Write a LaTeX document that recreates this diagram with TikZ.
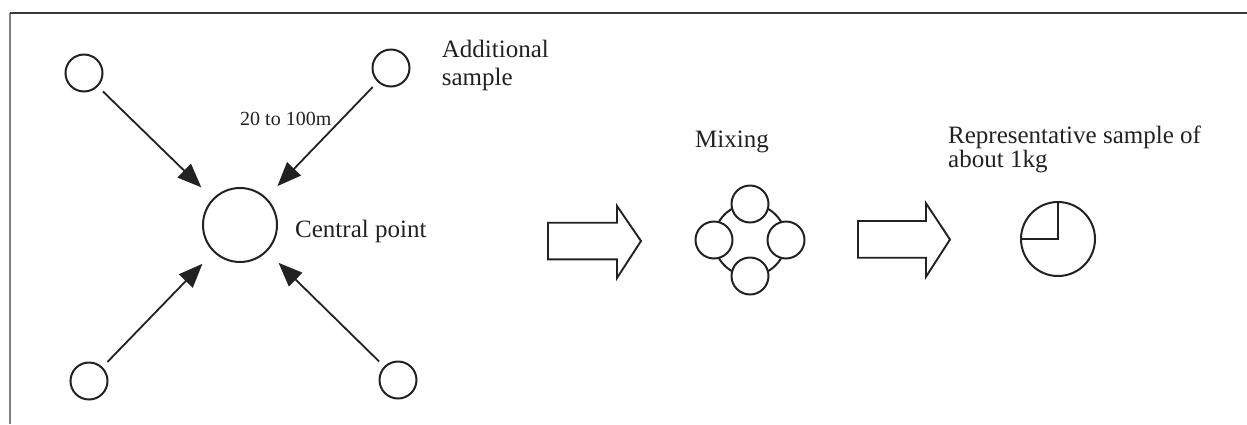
\documentclass[tikz,border=0pt]{standalone}
\usepackage{fontspec}
\setmainfont{Liberation Serif}
\usetikzlibrary{arrows.meta}
\definecolor{ink}{HTML}{222222}
\definecolor{framegray}{HTML}{808080}
\tikzset{
  sample/.style={circle, draw=ink, line width=2pt, minimum size=37pt, inner sep=0pt, fill=white},
  central/.style={circle, draw=ink, line width=2pt, minimum size=74pt, inner sep=0pt},
  arr/.style={draw=ink, line width=1.8pt, -{Triangle[length=24pt,width=19pt]}, shorten <=7pt, shorten >=16pt},
  lbl/.style={font=\fontsize{25}{28}\selectfont, text=ink, inner sep=0pt, anchor=base west, align=left},
  small/.style={font=\fontsize{20}{24}\selectfont, text=ink, inner sep=0pt, anchor=base west},
  blockarrow/.style={draw=ink, line width=1.9pt, line join=miter, fill=white},
}
\begin{document}
\begin{tikzpicture}[x=1pt, y=-1pt]
\useasboundingbox (0,0) rectangle (1247,424);
\fill[white] (0,0) rectangle (1247,424);
% frame
\draw[framegray, line width=2pt] (10,13) -- (10,424);
\draw[ink!90, line width=2pt] (10,13) -- (1247,13);

% left group
\node[central] (c) at (240,225) {};
\node[sample] (tl) at (84,73) {};
\node[sample] (tr) at (391,68) {};
\node[sample] (bl) at (89,381) {};
\node[sample] (br) at (398,380) {};
\draw[arr] (tl) -- (c);
\draw[arr] (tr) -- (c);
\draw[arr] (bl) -- (c);
\draw[arr] (br) -- (c);

\node[lbl] (add) at (441.7,85) {Additional\\sample};
\node[small] (dist) at (240,125) {20 to 100m};
\node[lbl] (cp) at (295,237) {Central point};

% block arrow 1
\draw[blockarrow] (548,222.7) -- (617,222.7) -- (617,206) -- (641,241) -- (617,278) -- (617,259.3) -- (548,259.3) -- cycle;

% mixing
\node[lbl] (mix) at (695,147) {Mixing};
\coordinate (m) at (750,240);
\draw[ink, line width=2pt] (m) circle[radius=36pt];
\node[sample] (mt) at (750,204) {};
\node[sample] (ml) at (714,240) {};
\node[sample] (mr) at (786,240) {};
\node[sample] (mb) at (750,276) {};

% block arrow 2
\draw[blockarrow] (858,221) -- (926,221) -- (926,203.3) -- (950,239.5) -- (926,276.7) -- (926,257.7) -- (858,257.7) -- cycle;

% representative sample
\node[lbl, font=\fontsize{25}{24}\selectfont] (rep) at (948,167) {Representative sample of\\about 1kg};
\node[central] (pie) at (1058,239) {};
\draw[ink, line width=2pt] (pie.north) -- (pie.center) -- (pie.west);
\end{tikzpicture}
\end{document}
